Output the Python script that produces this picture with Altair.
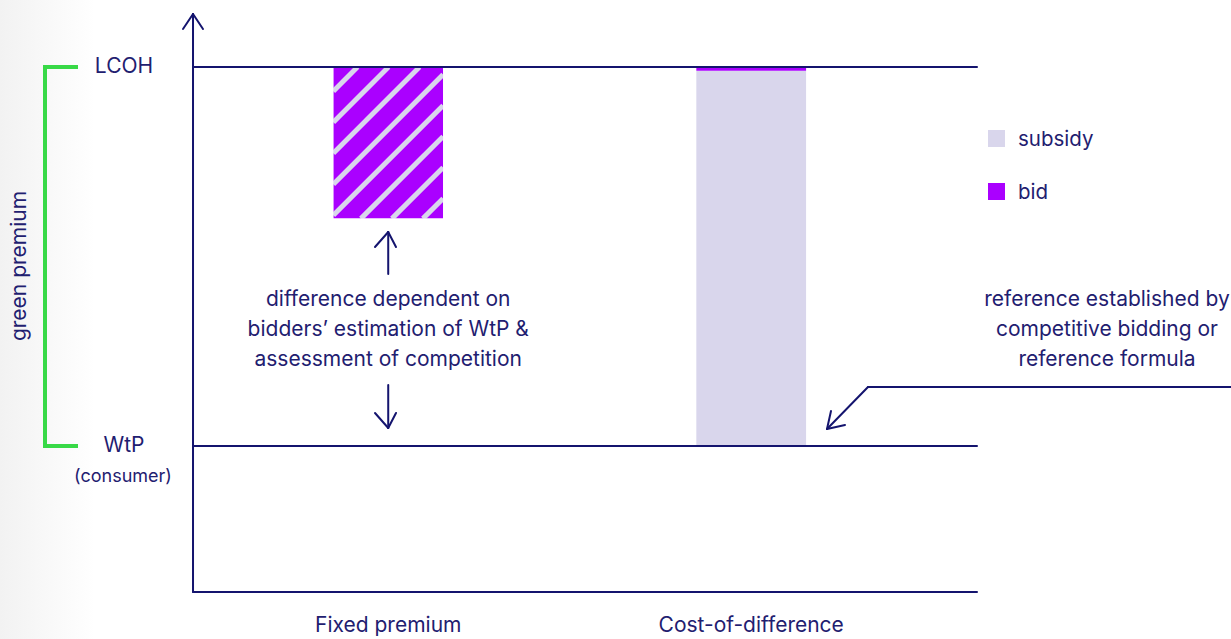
import altair as alt
import pandas as pd

W, H = 1231, 639

# ---- values (conceptual price axis: WtP = 0, LCOH = 1) ----
LEVEL_NAMES = ["LCOH", "WtP"]
LEVEL_VALUES = [1.0, 0.0]
CATEGORIES = ["Fixed premium", "Cost-of-difference"]
CAT_X = [0.249, 0.712]          # category centre on the horizontal axis (axis runs 0..1)
BAR_HALF = 0.07
FP_RANGE = [0.60, 1.0]          # fixed premium: hatched bid block
CFD_SUBSIDY = [0.0, 0.99]       # cost-of-difference: subsidy
CFD_BID = [0.99, 1.0]           # cost-of-difference: bid
LEGEND_NAMES = ["subsidy", "bid"]
LEGEND_COLORS = ["#d9d6ec", "#aa00ff"]

X_DOM = [-0.2462, 1.3240]
Y_DOM = [-0.5092, 1.1768]

NAVY = "#14146e"
TEXT = "#1f2070"
GREEN = "#38d947"
FONT = "Inter"
FS = 21


def dx(px):
    return X_DOM[0] + px / W * (X_DOM[1] - X_DOM[0])


def dy(py):
    return Y_DOM[1] - py / H * (Y_DOM[1] - Y_DOM[0])


def px_x(x):
    return (x - X_DOM[0]) / (X_DOM[1] - X_DOM[0]) * W


def px_y(y):
    return (Y_DOM[1] - y) / (Y_DOM[1] - Y_DOM[0]) * H


xs = alt.Scale(domain=X_DOM, nice=False, zero=False)
ys = alt.Scale(domain=Y_DOM, nice=False, zero=False)


def enc_rect(base):
    return base.encode(
        x=alt.X("x:Q", scale=xs, axis=None),
        x2="x2:Q",
        y=alt.Y("y:Q", scale=ys, axis=None),
        y2="y2:Q",
    )


# ---- left background fade ----
bg = enc_rect(
    alt.Chart(pd.DataFrame([{"x": dx(0), "x2": dx(95), "y": Y_DOM[0], "y2": Y_DOM[1]}])).mark_rect(
        color=alt.LinearGradient(
            gradient="linear",
            stops=[alt.GradientStop(color="#f2f2f2", offset=0), alt.GradientStop(color="#ffffff", offset=1)],
            x1=0, x2=1, y1=0, y2=0,
        )
    )
)

# ---- bars ----
bars_df = pd.DataFrame([
    {"x": CAT_X[0] - BAR_HALF, "x2": CAT_X[0] + BAR_HALF, "y": FP_RANGE[0], "y2": FP_RANGE[1], "c": LEGEND_COLORS[1]},
    {"x": CAT_X[1] - BAR_HALF, "x2": CAT_X[1] + BAR_HALF, "y": CFD_SUBSIDY[0], "y2": CFD_SUBSIDY[1], "c": LEGEND_COLORS[0]},
    {"x": CAT_X[1] - BAR_HALF, "x2": CAT_X[1] + BAR_HALF, "y": CFD_BID[0], "y2": CFD_BID[1], "c": LEGEND_COLORS[1]},
])
bars = enc_rect(alt.Chart(bars_df).mark_rect()).encode(color=alt.Color("c:N", scale=None))

# ---- hatching on the fixed premium block (45 degree stripes) ----
bx0, bx1 = px_x(CAT_X[0] - BAR_HALF), px_x(CAT_X[0] + BAR_HALF)
by0, by1 = px_y(FP_RANGE[1]), px_y(FP_RANGE[0])
stripes = []
for k in range(-3, 14):
    c = 424.5 + 31 * k
    xa = max(bx0, c - by1)
    xb = min(bx1, c - by0)
    if xb > xa + 0.5:
        stripes.append({"x": dx(xa), "y": dy(c - xa), "x2": dx(xb), "y2": dy(c - xb)})
hatch = alt.Chart(pd.DataFrame(stripes)).mark_rule(color=LEGEND_COLORS[0], strokeWidth=5, strokeCap="butt").encode(
    x=alt.X("x:Q", scale=xs, axis=None), y=alt.Y("y:Q", scale=ys, axis=None), x2="x2:Q", y2="y2:Q"
)
m = 4
mask_df = pd.DataFrame([
    {"x": dx(bx0 - m), "x2": dx(bx0), "y": dy(by0 - m), "y2": dy(by1 + m)},
    {"x": dx(bx1), "x2": dx(bx1 + m), "y": dy(by0 - m), "y2": dy(by1 + m)},
    {"x": dx(bx0 - m), "x2": dx(bx1 + m), "y": dy(by1), "y2": dy(by1 + m)},
    {"x": dx(bx0 - m), "x2": dx(bx1 + m), "y": dy(by0 - m), "y2": dy(by0)},
])
mask = enc_rect(alt.Chart(mask_df).mark_rect(color="white"))

# ---- axes and level lines ----
lines_df = pd.DataFrame([
    {"x": 0.0, "y": dy(592), "x2": 0.0, "y2": dy(14)},        # vertical axis
    {"x": 0.0, "y": dy(592), "x2": 1.0, "y2": dy(592)},       # horizontal axis
    {"x": dx(183), "y": dy(29), "x2": 0.0, "y2": dy(14)},      # axis arrow head
    {"x": dx(203), "y": dy(29), "x2": 0.0, "y2": dy(14)},
    {"x": 0.0, "y": LEVEL_VALUES[0], "x2": 1.0, "y2": LEVEL_VALUES[0]},  # LCOH
    {"x": 0.0, "y": LEVEL_VALUES[1], "x2": 1.0, "y2": LEVEL_VALUES[1]},  # WtP
    # up arrow
    {"x": CAT_X[0], "y": dy(274), "x2": CAT_X[0], "y2": dy(232)},
    {"x": dx(375), "y": dy(247), "x2": CAT_X[0], "y2": dy(232)},
    {"x": dx(396), "y": dy(247), "x2": CAT_X[0], "y2": dy(232)},
    # down arrow
    {"x": CAT_X[0], "y": dy(385), "x2": CAT_X[0], "y2": dy(428)},
    {"x": dx(375), "y": dy(413), "x2": CAT_X[0], "y2": dy(428)},
    {"x": dx(396), "y": dy(413), "x2": CAT_X[0], "y2": dy(428)},
    # reference pointer
    {"x": dx(1231), "y": dy(387), "x2": dx(868), "y2": dy(387)},
    {"x": dx(868), "y": dy(387), "x2": dx(827), "y2": dy(429)},
    {"x": dx(831), "y": dy(411), "x2": dx(827), "y2": dy(429)},
    {"x": dx(845), "y": dy(425), "x2": dx(827), "y2": dy(429)},
])
lines = alt.Chart(lines_df).mark_rule(color=NAVY, strokeWidth=2, strokeCap="round").encode(
    x=alt.X("x:Q", scale=xs, axis=None), y=alt.Y("y:Q", scale=ys, axis=None), x2="x2:Q", y2="y2:Q"
)

# ---- green premium bracket ----
br_df = pd.DataFrame([
    {"x": dx(45), "y": LEVEL_VALUES[0], "x2": dx(45), "y2": LEVEL_VALUES[1]},
    {"x": dx(45), "y": LEVEL_VALUES[0], "x2": dx(76), "y2": LEVEL_VALUES[0]},
    {"x": dx(45), "y": LEVEL_VALUES[1], "x2": dx(76), "y2": LEVEL_VALUES[1]},
])
bracket = alt.Chart(br_df).mark_rule(color=GREEN, strokeWidth=4, strokeCap="square").encode(
    x=alt.X("x:Q", scale=xs, axis=None), y=alt.Y("y:Q", scale=ys, axis=None), x2="x2:Q", y2="y2:Q"
)

# ---- legend ----
leg_df = pd.DataFrame([
    {"x": dx(988), "x2": dx(1005), "y": dy(130), "y2": dy(147), "c": LEGEND_COLORS[0]},
    {"x": dx(988), "x2": dx(1005), "y": dy(183), "y2": dy(200), "c": LEGEND_COLORS[1]},
])
leg_sq = enc_rect(alt.Chart(leg_df).mark_rect()).encode(color=alt.Color("c:N", scale=None))
leg_txt_df = pd.DataFrame([
    {"x": dx(1018), "y": dy(140), "text": LEGEND_NAMES[0]},
    {"x": dx(1018), "y": dy(193), "text": LEGEND_NAMES[1]},
])
leg_txt = alt.Chart(leg_txt_df).mark_text(align="left", baseline="middle", font=FONT, fontSize=20.5, color=TEXT).encode(
    x=alt.X("x:Q", scale=xs, axis=None), y=alt.Y("y:Q", scale=ys, axis=None), text="text:N"
)

# ---- centred texts ----
txt_df = pd.DataFrame([
    {"x": dx(124), "y": LEVEL_VALUES[0], "text": LEVEL_NAMES[0], "size": FS},
    {"x": dx(124), "y": LEVEL_VALUES[1], "text": LEVEL_NAMES[1], "size": FS},
    {"x": dx(123), "y": dy(477), "text": "(consumer)", "size": 18},
    {"x": CAT_X[0], "y": dy(300), "text": "difference dependent on", "size": FS},
    {"x": CAT_X[0], "y": dy(330), "text": "bidders\u2019 estimation of WtP &", "size": FS},
    {"x": CAT_X[0], "y": dy(360), "text": "assessment of competition", "size": FS},
    {"x": dx(1107), "y": dy(300), "text": "reference established by", "size": FS},
    {"x": dx(1107), "y": dy(330), "text": "competitive bidding or", "size": FS},
    {"x": dx(1107), "y": dy(360), "text": "reference formula", "size": FS},
    {"x": CAT_X[0], "y": dy(626), "text": CATEGORIES[0], "size": FS},
    {"x": CAT_X[1], "y": dy(626), "text": CATEGORIES[1], "size": FS},
])
texts = alt.Chart(txt_df).mark_text(align="center", baseline="middle", font=FONT, color=TEXT).encode(
    x=alt.X("x:Q", scale=xs, axis=None), y=alt.Y("y:Q", scale=ys, axis=None), text="text:N",
    size=alt.Size("size:Q", scale=None),
)

gp = alt.Chart(pd.DataFrame([{"x": dx(20), "y": dy(266), "text": "green premium"}])).mark_text(
    align="center", baseline="middle", font=FONT, fontSize=FS, color=TEXT, angle=270
).encode(x=alt.X("x:Q", scale=xs, axis=None), y=alt.Y("y:Q", scale=ys, axis=None), text="text:N")

chart = alt.layer(bg, bars, hatch, mask, lines, bracket, leg_sq, leg_txt, texts, gp).properties(
    width=W, height=H, padding=0, autosize=alt.AutoSizeParams(type="none"), background="white"
).configure_view(stroke=None)

chart.save("out.html", embed_options={"renderer": "svg", "actions": False})
